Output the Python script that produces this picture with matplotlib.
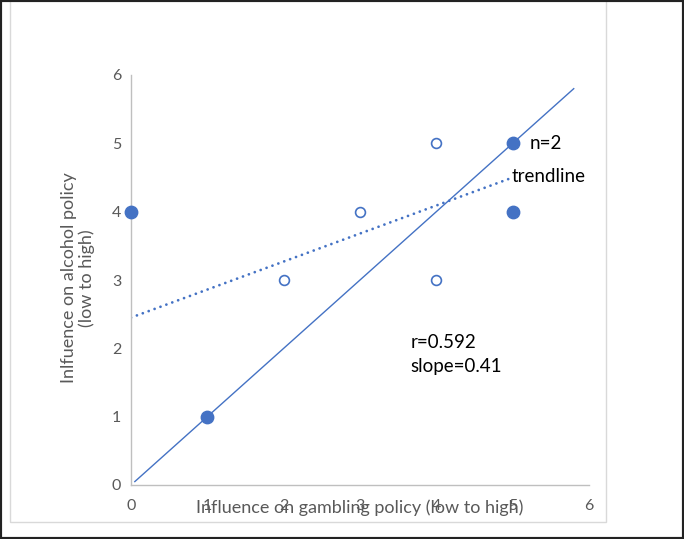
import matplotlib.pyplot as plt
from matplotlib.patches import Rectangle

# data
filled_x = [0, 1, 5, 5]
filled_y = [4, 1, 5, 4]
open_x = [2, 3, 4, 4]
open_y = [3, 4, 5, 3]
ref_x = [0.05, 5.8]
ref_y = [0.05, 5.8]
trend_x = [0, 5]
intercept = 2.45
slope = 0.41
ticks = [0, 1, 2, 3, 4, 5, 6]

plt.rcParams['font.family'] = ['Lato', 'DejaVu Sans']
blue = '#4472C4'
grey = '#595959'

fig = plt.figure(figsize=(6.84, 5.39), dpi=100)
ax = fig.add_axes([131/684, 1-485/539, (589-131)/684, (485-75)/539])

ax.plot(ref_x, ref_y, color=blue, lw=1.0)
trend_y = [intercept + slope*x for x in trend_x]
ax.plot(trend_x, trend_y, color=blue, lw=2.0, linestyle=(0, (0.01, 2.25)), dash_capstyle='round')
ax.scatter(filled_x, filled_y, s=80, color=blue, zorder=3, clip_on=False)
ax.scatter(open_x, open_y, s=50, facecolor='white', edgecolor=blue, linewidth=1.2, zorder=3, clip_on=False)

ax.set_xlim(0, 6)
ax.set_ylim(0, 6)
ax.set_xticks(ticks)
ax.set_yticks(ticks)
for s in ['top', 'right']:
    ax.spines[s].set_visible(False)
for s in ['left', 'bottom']:
    ax.spines[s].set_color('#BFBFBF')
    ax.spines[s].set_linewidth(1.0)
ax.tick_params(length=0, colors=grey, labelsize=11.5, pad=10)
ax.tick_params(axis='y', pad=7)

ax.text(5.22, 5.0, 'n=2', fontsize=13.5, va='center', ha='left')
ax.text(4.98, 4.52, 'trendline', fontsize=13.5, va='center', ha='left')
ax.text(3.66, 2.09, 'r=0.592', fontsize=13.5, va='center', ha='left')
ax.text(3.66, 1.73, 'slope=0.41', fontsize=13.5, va='center', ha='left')

# axis titles sit on the tick-label row, as in the original
fig.text(360/684, 1-508/539, 'Influence on gambling policy (low to high)', fontsize=13,
         color=grey, ha='center', va='center')
fig.text(78/684, 1-278/539, 'Inlfuence on alcohol policy\n(low to high)', fontsize=13,
         color=grey, ha='center', va='center', rotation=90, linespacing=1.1)

# frame of the chart area and outer border
fig.patches.append(Rectangle((10/684, 1-522/539), (606-10)/684, 522/539+0.01,
                             transform=fig.transFigure, fill=False, edgecolor='#D9D9D9', lw=1))
fig.patches.append(Rectangle((0, 0), 1, 1, transform=fig.transFigure, fill=False,
                             edgecolor='#222222', lw=3))

fig.savefig('out.png', dpi=100)
